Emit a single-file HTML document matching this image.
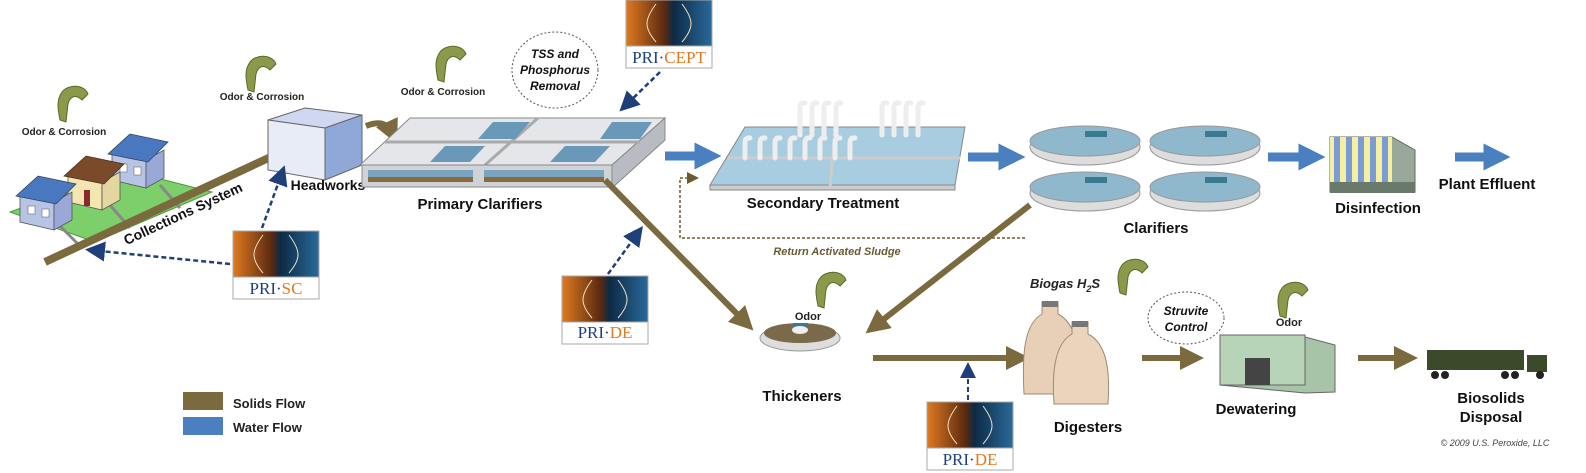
<!DOCTYPE html>
<html><head><meta charset="utf-8"><style>
body{margin:0;background:#fff}
svg{display:block;font-family:"Liberation Sans",sans-serif}
.l{font-weight:bold;font-size:15px;fill:#111;text-anchor:middle}
.o{font-weight:bold;font-size:10px;fill:#222;text-anchor:middle}
</style></head><body>
<svg width="1586" height="473" viewBox="0 0 1586 473" xmlns="http://www.w3.org/2000/svg">
<defs>
<linearGradient id="pg" x1="0" x2="1"><stop offset="0" stop-color="#e07a20"/><stop offset="0.45" stop-color="#5a2a10"/><stop offset="0.55" stop-color="#0c2a45"/><stop offset="1" stop-color="#2a6a9a"/></linearGradient>
<marker id="bh" markerWidth="4" markerHeight="4" refX="2" refY="2" orient="auto"><path d="M0,0L4,2L0,4z" fill="#7a6a3e"/></marker>
<marker id="wh" markerWidth="3" markerHeight="3" refX="1.5" refY="1.5" orient="auto"><path d="M0,0L3,1.5L0,3z" fill="#4a7fc0"/></marker>
<marker id="dh" markerWidth="8" markerHeight="8" refX="6" refY="4" orient="auto"><path d="M0,0L8,4L0,8z" fill="#1f3f7a"/></marker>
<marker id="rh" markerWidth="8" markerHeight="8" refX="6" refY="4" orient="auto"><path d="M0,0L8,4L0,8z" fill="#6a5a30"/></marker>
<g id="odor"><path d="M0,0 C6,-8 22,-8 26,2 L20,8 C14,2 8,4 6,12 L4,30 L-2,28 C-4,18 -6,8 0,0z" fill="#8a9a4a" stroke="#5a6a2a"/></g>
<g id="badge"><rect x="0" y="0" width="86" height="46" fill="url(#pg)" stroke="#aaa"/><path d="M30,4 C18,20 18,28 30,42 M56,4 C68,20 68,28 56,42" stroke="#f4e0c0" fill="none" stroke-width="1"/><rect x="0" y="46" width="86" height="22" fill="#fff" stroke="#aaa"/></g>
<g id="house"><polygon points="0,22 34,30 34,58 0,50" fill="#b8c4e6" stroke="#555" stroke-width="0.8"/><polygon points="34,30 52,20 52,48 34,58" fill="#9aa8d8" stroke="#555" stroke-width="0.8"/><polygon points="-4,24 18,4 56,12 36,32" fill="#4a78c0" stroke="#345" stroke-width="0.8"/><rect x="8" y="34" width="7" height="8" fill="#fff" stroke="#555" stroke-width="0.5"/><rect x="22" y="37" width="7" height="8" fill="#fff" stroke="#555" stroke-width="0.5"/></g>
</defs>

<!-- houses -->
<polygon points="10,212 95,242 212,192 125,170" fill="#7ccf6a" stroke="#4a9a3a"/>
<g stroke="#888" stroke-width="3"><line x1="60" y1="226" x2="80" y2="246"/><line x1="110" y1="205" x2="130" y2="228"/><line x1="160" y1="185" x2="180" y2="208"/></g>
<use href="#house" x="112" y="130"/>
<g transform="translate(68,152)"><polygon points="0,22 34,30 34,58 0,50" fill="#f4e6b0" stroke="#555" stroke-width="0.8"/><polygon points="34,30 52,20 52,48 34,58" fill="#e4d6a0" stroke="#555" stroke-width="0.8"/><polygon points="-4,24 18,4 56,12 36,32" fill="#7a4a2a" stroke="#432" stroke-width="0.8"/><rect x="16" y="38" width="6" height="16" fill="#8a2a2a"/></g>
<use href="#house" x="20" y="172"/>
<line x1="45" y1="262" x2="290" y2="148" stroke="#7a6a3e" stroke-width="8"/>
<text x="185" y="218" transform="rotate(-25 185 218)" class="l" style="font-size:14px">Collections System</text>
<use href="#odor" x="62" y="92"/><text x="64" y="135" class="o">Odor &amp; Corrosion</text>
<use href="#odor" x="250" y="62"/><text x="262" y="100" class="o">Odor &amp; Corrosion</text>
<use href="#odor" x="440" y="52"/><text x="443" y="95" class="o">Odor &amp; Corrosion</text>

<!-- headworks -->
<polygon points="268,120 305,108 362,115 325,128" fill="#cfd8f0" stroke="#666"/>
<polygon points="268,120 325,128 325,180 268,170" fill="#e8ecf6" stroke="#666"/>
<polygon points="325,128 362,115 362,165 325,180" fill="#90a8d8" stroke="#666"/>
<text x="328" y="190" class="l" style="font-size:14px">Headworks</text>
<path d="M366,126 Q385,118 392,133" stroke="#7a6a3e" stroke-width="6" fill="none" marker-end="url(#bh)"/>

<!-- primary clarifiers -->
<polygon points="360,165 410,118 665,118 612,165" fill="#e4e6ea" stroke="#888"/>
<polygon points="612,165 665,118 665,140 612,188" fill="#b8bcc2" stroke="#888"/>
<line x1="385" y1="142" x2="640" y2="142" stroke="#aaa" stroke-width="3"/>
<line x1="538" y1="118" x2="485" y2="165" stroke="#aaa" stroke-width="3"/>
<rect x="362" y="165" width="250" height="22" fill="#cfd3d8" stroke="#888"/>
<rect x="368" y="170" width="105" height="12" fill="#7aa4c0"/><rect x="484" y="170" width="120" height="12" fill="#7aa4c0"/>
<rect x="368" y="177" width="105" height="5" fill="#8a6a3a"/><rect x="484" y="177" width="120" height="5" fill="#8a6a3a"/>
<polygon points="430,162 470,162 485,146 445,146" fill="#6a98b8"/><polygon points="550,162 595,162 610,146 565,146" fill="#6a98b8"/>
<polygon points="478,139 515,139 530,122 493,122" fill="#6a98b8"/><polygon points="600,139 640,139 652,122 612,122" fill="#6a98b8"/>
<text x="480" y="209" class="l">Primary Clarifiers</text>
<ellipse cx="555" cy="70" rx="43" ry="38" fill="#fff" stroke="#555" stroke-dasharray="2,2"/>
<text x="555" y="58" class="l" style="font-size:12px;font-style:italic">TSS and</text>
<text x="555" y="74" class="l" style="font-size:12px;font-style:italic">Phosphorus</text>
<text x="555" y="90" class="l" style="font-size:12px;font-style:italic">Removal</text>
<use href="#badge" x="626" y="0"/>
<text x="669" y="63" text-anchor="middle" font-family="Liberation Serif" font-size="17" fill="#1f3f7a">PRI·<tspan fill="#e07a20">CEPT</tspan></text>
<line x1="660" y1="72" x2="623" y2="108" stroke="#1f3f7a" stroke-width="2.5" stroke-dasharray="5,3" marker-end="url(#dh)"/>

<line x1="665" y1="156" x2="708" y2="156" stroke="#4a7fc0" stroke-width="9" marker-end="url(#wh)"/>

<!-- secondary -->
<polygon points="710,185 745,127 965,127 955,185" fill="#a8cce0" stroke="#888"/>
<rect x="710" y="185" width="245" height="5" fill="#ccc" stroke="#888"/>
<line x1="835" y1="127" x2="830" y2="188" stroke="#ccc" stroke-width="3"/><line x1="728" y1="158" x2="960" y2="158" stroke="#ccc" stroke-width="3"/>
<g stroke="#eee" stroke-width="5" fill="none" stroke-linecap="round">
<path d="M800,135V108q0-6 5-5 M812,135V108q0-6 5-5 M824,135V108q0-6 5-5 M836,135V108q0-6 5-5"/>
<path d="M882,135V108q0-6 5-5 M894,135V108q0-6 5-5 M906,135V108q0-6 5-5 M918,135V108q0-6 5-5"/>
<path d="M745,158V143q0-6 5-5 M760,158V143q0-6 5-5 M775,158V143q0-6 5-5 M790,158V143q0-6 5-5"/>
<path d="M805,158V143q0-6 5-5 M820,158V143q0-6 5-5 M835,158V143q0-6 5-5 M850,158V143q0-6 5-5"/>
</g>
<text x="823" y="208" class="l">Secondary Treatment</text>
<line x1="968" y1="157" x2="1012" y2="157" stroke="#4a7fc0" stroke-width="9" marker-end="url(#wh)"/>

<!-- clarifiers -->
<g stroke="#999">
<ellipse cx="1085" cy="147" rx="55" ry="18" fill="#ddd"/><ellipse cx="1085" cy="141" rx="55" ry="15" fill="#90b8cc"/>
<ellipse cx="1205" cy="147" rx="55" ry="18" fill="#ddd"/><ellipse cx="1205" cy="141" rx="55" ry="15" fill="#90b8cc"/>
<ellipse cx="1085" cy="193" rx="55" ry="18" fill="#ddd"/><ellipse cx="1085" cy="187" rx="55" ry="15" fill="#90b8cc"/>
<ellipse cx="1205" cy="193" rx="55" ry="18" fill="#ddd"/><ellipse cx="1205" cy="187" rx="55" ry="15" fill="#90b8cc"/>
</g>
<g fill="#3a7a90"><rect x="1085" y="131" width="22" height="6"/><rect x="1205" y="131" width="22" height="6"/><rect x="1085" y="177" width="22" height="6"/><rect x="1205" y="177" width="22" height="6"/></g>
<text x="1156" y="233" class="l">Clarifiers</text>
<line x1="1268" y1="157" x2="1312" y2="157" stroke="#4a7fc0" stroke-width="9" marker-end="url(#wh)"/>

<!-- disinfection -->
<polygon points="1330,137 1392,137 1415,150 1415,192 1330,192" fill="#9aa89a" stroke="#666"/>
<rect x="1330" y="137" width="62" height="45" fill="#f4f0a0"/>
<g fill="#7a9ad8"><rect x="1334" y="137" width="6" height="45"/><rect x="1346" y="137" width="6" height="45"/><rect x="1358" y="137" width="6" height="45"/><rect x="1370" y="137" width="6" height="45"/><rect x="1382" y="137" width="6" height="45"/></g>
<rect x="1330" y="182" width="85" height="11" fill="#6a7a6a"/>
<text x="1378" y="213" class="l">Disinfection</text>
<line x1="1455" y1="157" x2="1497" y2="157" stroke="#4a7fc0" stroke-width="9" marker-end="url(#wh)"/>
<text x="1487" y="189" class="l">Plant Effluent</text>

<!-- RAS -->
<path d="M1025,238 H680 V178 H696" stroke="#6a5a30" stroke-width="1.5" stroke-dasharray="3,2" fill="none" marker-end="url(#rh)"/>
<text x="837" y="255" text-anchor="middle" font-size="11" font-style="italic" font-weight="bold" fill="#6a5a30">Return Activated Sludge</text>

<!-- solids lines -->
<line x1="605" y1="180" x2="745" y2="322" stroke="#7a6a3e" stroke-width="6" marker-end="url(#bh)"/>
<line x1="1030" y1="205" x2="875" y2="326" stroke="#7a6a3e" stroke-width="6" marker-end="url(#bh)"/>

<!-- PRI-SC -->
<use href="#badge" x="233" y="231"/>
<text x="276" y="294" text-anchor="middle" font-family="Liberation Serif" font-size="17" fill="#1f3f7a">PRI·<tspan fill="#e07a20">SC</tspan></text>
<line x1="262" y1="228" x2="283" y2="170" stroke="#1f3f7a" stroke-width="2.5" stroke-dasharray="5,3" marker-end="url(#dh)"/>
<line x1="230" y1="264" x2="90" y2="250" stroke="#1f3f7a" stroke-width="2.5" stroke-dasharray="5,3" marker-end="url(#dh)"/>

<!-- PRI-DE 1 -->
<use href="#badge" x="562" y="276"/>
<text x="605" y="338" text-anchor="middle" font-family="Liberation Serif" font-size="17" fill="#1f3f7a">PRI·<tspan fill="#e07a20">DE</tspan></text>
<line x1="608" y1="274" x2="640" y2="230" stroke="#1f3f7a" stroke-width="2.5" stroke-dasharray="5,3" marker-end="url(#dh)"/>

<!-- thickener -->
<use href="#odor" x="820" y="278"/><text x="808" y="320" class="o" style="font-size:11px">Odor</text>
<ellipse cx="800" cy="338" rx="40" ry="13" fill="#ddd" stroke="#999"/>
<ellipse cx="800" cy="333" rx="36" ry="10" fill="#7a6a4a"/>
<rect x="793" y="323" width="15" height="6" fill="#3a7a90"/><ellipse cx="800" cy="330" rx="8" ry="4" fill="#eee"/>
<text x="802" y="401" class="l">Thickeners</text>
<line x1="873" y1="358" x2="1018" y2="358" stroke="#7a6a3e" stroke-width="6" marker-end="url(#bh)"/>

<!-- PRI-DE 2 -->
<use href="#badge" x="927" y="402"/>
<text x="970" y="465" text-anchor="middle" font-family="Liberation Serif" font-size="17" fill="#1f3f7a">PRI·<tspan fill="#e07a20">DE</tspan></text>
<line x1="968" y1="400" x2="968" y2="366" stroke="#1f3f7a" stroke-width="2" stroke-dasharray="5,3" marker-end="url(#dh)"/>

<!-- digesters -->
<text x="1030" y="288" font-size="13" font-weight="bold" font-style="italic" fill="#222">Biogas H<tspan font-size="9" dy="4">2</tspan><tspan dy="-4">S</tspan></text>
<use href="#odor" x="1122" y="265"/>
<path d="M1042,302 h16 v12 c20,10 22,40 20,80 h-54 c-2,-40 0,-70 18,-80z" fill="#e8d0b8" stroke="#a08a70"/>
<rect x="1042" y="301" width="16" height="6" fill="#777"/>
<path d="M1072,322 h16 v12 c20,10 22,40 20,70 h-54 c-2,-30 0,-60 18,-70z" fill="#ead4bc" stroke="#a08a70"/>
<rect x="1072" y="321" width="16" height="6" fill="#777"/>
<text x="1088" y="432" class="l">Digesters</text>
<ellipse cx="1186" cy="318" rx="38" ry="26" fill="#fff" stroke="#555" stroke-dasharray="2,2"/>
<text x="1186" y="315" class="l" style="font-size:12px;font-style:italic">Struvite</text>
<text x="1186" y="331" class="l" style="font-size:12px;font-style:italic">Control</text>
<line x1="1142" y1="358" x2="1192" y2="358" stroke="#7a6a3e" stroke-width="6" marker-end="url(#bh)"/>

<!-- dewatering -->
<use href="#odor" x="1282" y="288"/><text x="1289" y="326" class="o" style="font-size:11px">Odor</text>
<polygon points="1220,335 1305,337 1335,345 1335,392 1305,393 1220,385" fill="#a8c4a8" stroke="#666"/>
<rect x="1220" y="335" width="85" height="50" fill="#b8d4b8" stroke="#666"/>
<rect x="1245" y="358" width="25" height="27" fill="#444"/>
<text x="1256" y="414" class="l">Dewatering</text>
<line x1="1358" y1="358" x2="1406" y2="358" stroke="#7a6a3e" stroke-width="6" marker-end="url(#bh)"/>

<!-- truck -->
<rect x="1427" y="350" width="97" height="20" fill="#3a4a2a"/>
<rect x="1527" y="355" width="20" height="17" fill="#3a4a2a"/>
<g fill="#222"><circle cx="1435" cy="375" r="4"/><circle cx="1445" cy="375" r="4"/><circle cx="1505" cy="375" r="4"/><circle cx="1515" cy="375" r="4"/><circle cx="1540" cy="375" r="4"/></g>
<text x="1491" y="403" class="l">Biosolids</text>
<text x="1491" y="422" class="l">Disposal</text>

<!-- legend -->
<rect x="183" y="392" width="40" height="18" fill="#7a6a3e"/>
<text x="233" y="408" font-size="13" font-weight="bold" fill="#222">Solids Flow</text>
<rect x="183" y="417" width="40" height="18" fill="#4a7fc0"/>
<text x="233" y="432" font-size="13" font-weight="bold" fill="#222">Water Flow</text>
<text x="1495" y="446" text-anchor="middle" font-size="9" font-style="italic" fill="#444">© 2009 U.S. Peroxide, LLC</text>
</svg>
</body></html>
